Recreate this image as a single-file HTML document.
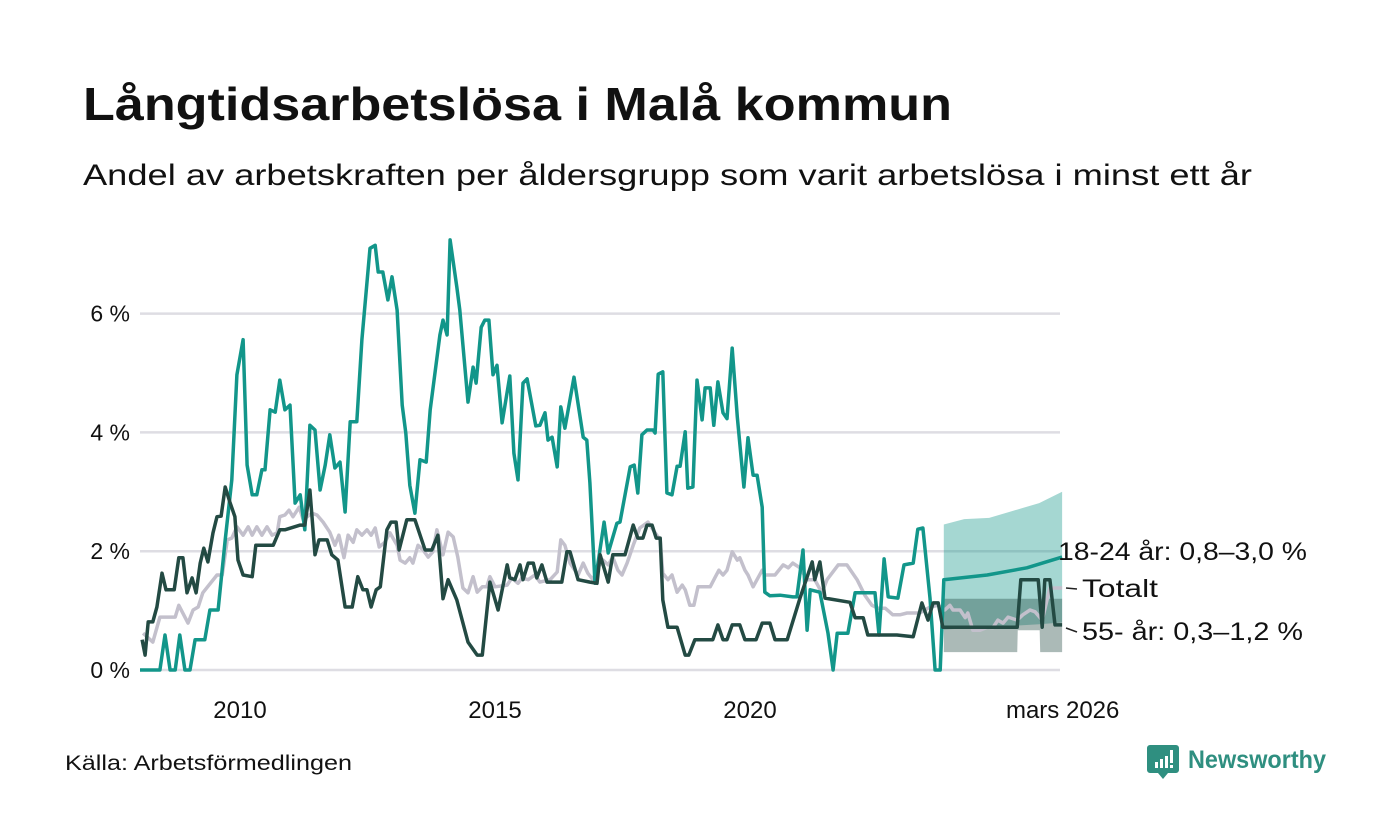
<!DOCTYPE html>
<html><head><meta charset="utf-8"><style>
html,body{margin:0;padding:0;background:#fff;}
svg{display:block;font-family:"Liberation Sans",sans-serif;}
</style></head><body>
<svg id="chart" width="1400" height="840" viewBox="0 0 1400 840" xmlns="http://www.w3.org/2000/svg">
<rect width="1400" height="840" fill="#fff"/>
<text x="83" y="120" font-size="46" font-weight="bold" fill="#111" textLength="869" lengthAdjust="spacingAndGlyphs">Långtidsarbetslösa i Malå kommun</text>
<text x="83" y="185" font-size="30" fill="#111" textLength="1169" lengthAdjust="spacingAndGlyphs">Andel av arbetskraften per åldersgrupp som varit arbetslösa i minst ett år</text>
<g id="grid"></g>
<g id="bands"></g>
<g id="lines"></g>
<g id="labels"></g>
<text x="65" y="770" font-size="21" fill="#111" textLength="287" lengthAdjust="spacingAndGlyphs">Källa: Arbetsförmedlingen</text>
<g>
<path d="M1150 745 h26 a3 3 0 0 1 3 3 v22 a3 3 0 0 1 -3 3 h-8 l-5 6 l-5 -6 h-8 a3 3 0 0 1 -3 -3 v-22 a3 3 0 0 1 3 -3z" fill="#2f8f80"/>
<rect x="1155" y="762" width="3" height="6" fill="#fff"/><rect x="1160" y="759" width="3" height="9" fill="#fff"/><rect x="1165" y="756" width="3" height="12" fill="#fff"/><rect x="1170" y="750" width="3" height="13" fill="#fff"/><rect x="1170" y="765" width="3" height="3" fill="#fff"/>
<text x="1188" y="768" font-size="25" font-weight="bold" fill="#2f8f80" textLength="138" lengthAdjust="spacingAndGlyphs">Newsworthy</text>
</g>
</svg>
<script>
const yTicks=[0,2,4,6];
const yTickLabels=["0 %","2 %","4 %","6 %"];
const xTicks=[2010,2015,2020,2026.17];
const xTickLabels=["2010","2015","2020","mars 2026"];
const youngYears=[2008.04,2008.43,2008.53,2008.63,2008.73,2008.82,2008.92,2009.02,2009.12,2009.31,2009.41,2009.57,2009.71,2009.84,2009.94,2010.06,2010.14,2010.24,2010.33,2010.43,2010.49,2010.59,2010.69,2010.78,2010.88,2010.98,2011.08,2011.18,2011.27,2011.37,2011.47,2011.57,2011.67,2011.76,2011.86,2011.96,2012.06,2012.16,2012.29,2012.39,2012.55,2012.65,2012.71,2012.80,2012.90,2012.98,2013.08,2013.18,2013.25,2013.33,2013.43,2013.53,2013.65,2013.73,2013.92,2013.98,2014.06,2014.12,2014.25,2014.31,2014.47,2014.57,2014.63,2014.73,2014.80,2014.88,2014.96,2015.04,2015.14,2015.29,2015.37,2015.45,2015.55,2015.63,2015.80,2015.88,2015.98,2016.04,2016.12,2016.22,2016.29,2016.37,2016.55,2016.73,2016.80,2016.86,2016.96,2017.14,2017.22,2017.39,2017.45,2017.65,2017.73,2017.80,2017.88,2017.98,2018.10,2018.14,2018.20,2018.29,2018.37,2018.47,2018.57,2018.63,2018.73,2018.78,2018.88,2018.96,2019.06,2019.12,2019.22,2019.29,2019.37,2019.47,2019.55,2019.65,2019.75,2019.88,2019.96,2020.06,2020.14,2020.24,2020.29,2020.39,2020.59,2020.84,2020.92,2021.04,2021.12,2021.18,2021.37,2021.53,2021.63,2021.71,2021.92,2022.06,2022.45,2022.53,2022.63,2022.71,2022.90,2023.02,2023.20,2023.29,2023.39,2023.53,2023.63,2023.73,2023.80,2024.65,2025.43,2026.12];
const youngValues=[0,0,0.59,0,0,0.59,0,0,0.51,0.51,1.01,1.01,2.19,3.20,4.97,5.56,3.45,2.95,2.95,3.37,3.37,4.38,4.34,4.88,4.38,4.46,2.81,2.95,2.36,4.12,4.04,3.03,3.45,3.96,3.40,3.50,2.66,4.18,4.18,5.56,7.10,7.15,6.70,6.70,6.23,6.62,6.06,4.46,3.99,3.11,2.64,3.54,3.50,4.38,5.64,5.89,5.64,7.24,6.45,6.06,4.51,5.10,4.83,5.77,5.89,5.89,4.97,5.13,4.16,4.95,3.65,3.20,4.83,4.90,4.11,4.12,4.33,3.87,3.92,3.42,4.43,4.07,4.93,3.92,3.87,3.15,1.46,2.49,1.97,2.47,2.49,3.42,3.45,2.98,3.96,4.04,4.04,3.99,4.98,5.02,2.98,2.95,3.43,3.43,4.01,3.06,3.08,4.88,4.21,4.75,4.75,4.12,4.85,4.33,4.23,5.42,4.26,3.08,3.91,3.28,3.28,2.74,1.31,1.25,1.26,1.23,1.23,2.02,0.67,1.35,1.31,0.62,0,0.62,0.62,1.30,1.30,0.59,1.87,1.23,1.21,1.77,1.80,2.37,2.39,1.21,0,0,1.52,1.60,1.72,1.90];
const oldYears=[2008.08,2008.14,2008.20,2008.29,2008.37,2008.47,2008.55,2008.71,2008.80,2008.88,2008.96,2009.06,2009.14,2009.22,2009.29,2009.37,2009.47,2009.55,2009.63,2009.71,2009.80,2009.90,2009.96,2010.06,2010.24,2010.31,2010.65,2010.78,2010.88,2011.18,2011.27,2011.37,2011.47,2011.55,2011.71,2011.80,2011.92,2012.06,2012.20,2012.31,2012.41,2012.49,2012.57,2012.67,2012.75,2012.88,2012.96,2013.06,2013.12,2013.27,2013.43,2013.63,2013.76,2013.88,2013.98,2014.08,2014.25,2014.47,2014.65,2014.75,2014.90,2015.06,2015.24,2015.29,2015.39,2015.49,2015.55,2015.65,2015.75,2015.82,2015.92,2016.02,2016.31,2016.41,2016.47,2016.63,2016.86,2017.00,2017.06,2017.22,2017.31,2017.55,2017.71,2017.80,2017.90,2017.98,2018.08,2018.16,2018.24,2018.29,2018.39,2018.57,2018.73,2018.80,2018.92,2019.27,2019.37,2019.47,2019.55,2019.65,2019.80,2019.90,2020.12,2020.24,2020.39,2020.49,2020.73,2020.98,2021.22,2021.27,2021.37,2021.47,2021.96,2022.06,2022.22,2022.31,2022.88,2023.20,2023.37,2023.49,2023.59,2023.69,2023.78,2025.24,2025.31,2025.65,2025.73,2025.78,2025.88,2025.98,2026.12];
const oldValues=[0.51,0.25,0.81,0.81,1.06,1.63,1.35,1.35,1.89,1.89,1.30,1.55,1.30,1.80,2.05,1.82,2.31,2.58,2.59,3.08,2.83,2.58,1.85,1.60,1.57,2.10,2.10,2.36,2.36,2.44,2.44,3.03,1.94,2.19,2.19,1.94,1.85,1.06,1.06,1.57,1.35,1.35,1.06,1.35,1.40,2.36,2.49,2.49,2.02,2.53,2.53,2.02,2.02,2.27,1.20,1.52,1.18,0.47,0.25,0.25,1.48,1.01,1.77,1.55,1.52,1.77,1.52,1.80,1.80,1.55,1.77,1.48,1.48,1.99,1.99,1.52,1.48,1.46,1.94,1.48,1.94,1.94,2.44,2.22,2.22,2.44,2.44,2.22,2.22,1.18,0.72,0.72,0.25,0.25,0.51,0.51,0.76,0.51,0.51,0.76,0.76,0.51,0.51,0.79,0.79,0.51,0.51,1.21,1.82,1.52,1.82,1.21,1.14,0.88,0.88,0.59,0.59,0.56,1.13,0.84,1.13,1.13,0.72,0.72,1.52,1.52,0.72,1.52,1.52,0.76,0.76];
const totalYears=[2008.10,2008.29,2008.43,2008.73,2008.80,2008.98,2009.08,2009.18,2009.27,2009.55,2009.65,2009.75,2009.84,2009.94,2010.06,2010.16,2010.24,2010.33,2010.43,2010.53,2010.63,2010.73,2010.78,2010.88,2010.96,2011.04,2011.16,2011.24,2011.41,2011.51,2011.63,2011.76,2011.86,2011.94,2012.04,2012.12,2012.22,2012.29,2012.39,2012.49,2012.57,2012.65,2012.73,2012.84,2012.94,2013.08,2013.14,2013.24,2013.33,2013.39,2013.49,2013.59,2013.69,2013.78,2013.86,2013.98,2014.08,2014.18,2014.27,2014.37,2014.47,2014.57,2014.65,2014.75,2014.84,2014.90,2015.00,2015.24,2015.33,2015.45,2015.53,2015.65,2015.78,2015.88,2016.08,2016.22,2016.29,2016.37,2016.47,2016.63,2016.73,2016.82,2016.92,2017.02,2017.12,2017.22,2017.31,2017.41,2017.49,2017.59,2017.71,2017.84,2018.00,2018.14,2018.24,2018.29,2018.39,2018.47,2018.57,2018.67,2018.73,2018.82,2018.90,2018.98,2019.22,2019.31,2019.39,2019.47,2019.55,2019.65,2019.75,2019.80,2019.90,2019.96,2020.06,2020.24,2020.29,2020.49,2020.65,2020.75,2020.84,2020.98,2021.12,2021.27,2021.41,2021.51,2021.73,2021.90,2022.10,2022.25,2022.39,2022.51,2022.65,2022.80,2022.94,2023.08,2023.33,2023.53,2023.69,2023.82,2023.92,2023.98,2024.12,2024.22,2024.27,2024.37,2024.51,2024.65,2024.76,2024.86,2024.96,2025.06,2025.24,2025.35,2025.49,2025.59,2025.73,2025.88,2026.12];
const totalValues=[0.62,0.47,0.89,0.89,1.09,0.79,1.01,1.06,1.30,1.60,1.60,2.19,2.22,2.41,2.27,2.41,2.27,2.41,2.27,2.41,2.27,2.31,2.58,2.61,2.69,2.58,2.74,2.53,2.64,2.61,2.49,2.32,2.10,2.27,1.89,2.27,2.15,2.36,2.27,2.36,2.27,2.39,2.07,2.15,2.31,2.10,1.85,1.80,1.89,1.80,2.10,2.02,1.90,1.99,2.36,1.94,2.32,2.24,1.90,1.38,1.30,1.57,1.31,1.40,1.40,1.57,1.40,1.43,1.55,1.46,1.55,1.52,1.60,1.48,1.52,1.65,2.19,2.10,1.80,1.60,1.80,1.63,1.52,1.73,1.85,1.77,1.90,1.68,1.60,1.80,2.10,2.39,2.49,2.31,2.19,1.63,1.52,1.60,1.31,1.43,1.35,1.09,1.09,1.40,1.40,1.55,1.68,1.60,1.68,1.99,1.85,1.89,1.68,1.60,1.40,1.68,1.60,1.60,1.77,1.72,1.80,1.72,1.52,1.52,1.30,1.52,1.77,1.77,1.52,1.26,1.09,1.04,1.04,0.93,0.93,0.96,0.96,1.06,1.09,1.01,1.09,1.01,1.01,0.88,0.96,0.67,0.67,0.72,0.71,0.84,0.79,0.89,0.84,0.93,1.01,0.98,0.84,1.38,1.38];
const youngBandYears=[2023.80,2024.20,2024.69,2025.08,2025.67,2026.12];
const youngBandUpper=[2.45,2.54,2.56,2.66,2.81,3.0];
const youngBandLower=[0.68,0.70,0.72,0.74,0.77,0.8];
const oldBandYears=[2023.80,2025.24,2025.25,2025.68,2025.69,2026.12];
const oldBandUpper=[1.2,1.2,1.2,1.2,1.2,1.2];
const oldBandLower=[0.3,0.3,0.67,0.67,0.3,0.3];
const seriesLabels=["18-24 år: 0,8–3,0 %","Totalt","55- år: 0,3–1,2 %"];

const X0=2008, PX0=138, PXY=51, Y0=670, PYV=59.4;
const xs=v=>PX0+(v-X0)*PXY;
const ys=v=>Y0-v*PYV;
const NS="http://www.w3.org/2000/svg";
function mk(tag,parent,attrs){const e=document.createElementNS(NS,tag);for(const k in attrs)e.setAttribute(k,attrs[k]);parent.appendChild(e);return e;}
const grid=document.getElementById('grid');
yTicks.forEach((t,i)=>{
  const l=mk('line',grid,{x1:140,x2:1060,y1:ys(t),y2:ys(t),stroke:'#dedde3','stroke-width':2.5});
  
  
  const tx=mk('text',grid,{x:130,y:ys(t)+8,'text-anchor':'end','font-size':23,fill:'#111'});
  tx.textContent=yTickLabels[i];
  
  
});
xTicks.forEach((t,i)=>{
  const tx=mk('text',grid,{x:xs(t)-(i==3?2:0),y:718,'text-anchor':'middle','font-size':24,fill:'#111'});
  tx.textContent=xTickLabels[i];
  
  
});
function bandPath(yrs,up,lo){let d='';yrs.forEach((y,i)=>{d+=(i?'L':'M')+xs(y)+' '+ys(up[i]);});for(let i=yrs.length-1;i>=0;i--)d+='L'+xs(yrs[i])+' '+ys(lo[i]);return d+'Z';}
const bands=document.getElementById('bands');
const b1=mk('path',bands,{d:bandPath(youngBandYears,youngBandUpper,youngBandLower),fill:'#12968a','fill-opacity':0.38});


const b2=mk('path',bands,{d:bandPath(oldBandYears,oldBandUpper,oldBandLower),fill:'#234a43','fill-opacity':0.38});


function linePath(yrs,vals){return yrs.map((y,i)=>(i?'L':'M')+xs(y).toFixed(1)+' '+ys(vals[i]).toFixed(1)).join('');}
const lines=document.getElementById('lines');
const l1=mk('path',lines,{d:linePath(totalYears,totalValues),fill:'none',stroke:'#c3c0cc','stroke-width':3.5,'stroke-linejoin':'round'});


const l2=mk('path',lines,{d:linePath(youngYears,youngValues),fill:'none',stroke:'#12968a','stroke-width':3.5,'stroke-linejoin':'round'});


const l3=mk('path',lines,{d:linePath(oldYears,oldValues),fill:'none',stroke:'#234a43','stroke-width':3.5,'stroke-linejoin':'round'});


const labels=document.getElementById('labels');
const labY=[560,597,640];
const labW=[249,76,221];
labY.forEach((y,i)=>{
  if(i>0){const ln=mk('line',labels,{x1:1066,x2:1077,y1:y-9+(i==2?-3:0),y2:y-8,stroke:'#222','stroke-width':1.5});
    
    }
  const tx=mk('text',labels,{x:i==0?1058:1082,y:y,'font-size':25,fill:'#111',textLength:labW[i],lengthAdjust:'spacingAndGlyphs'});
  tx.textContent=seriesLabels[i];
  
  
});
</script>
</body></html>
